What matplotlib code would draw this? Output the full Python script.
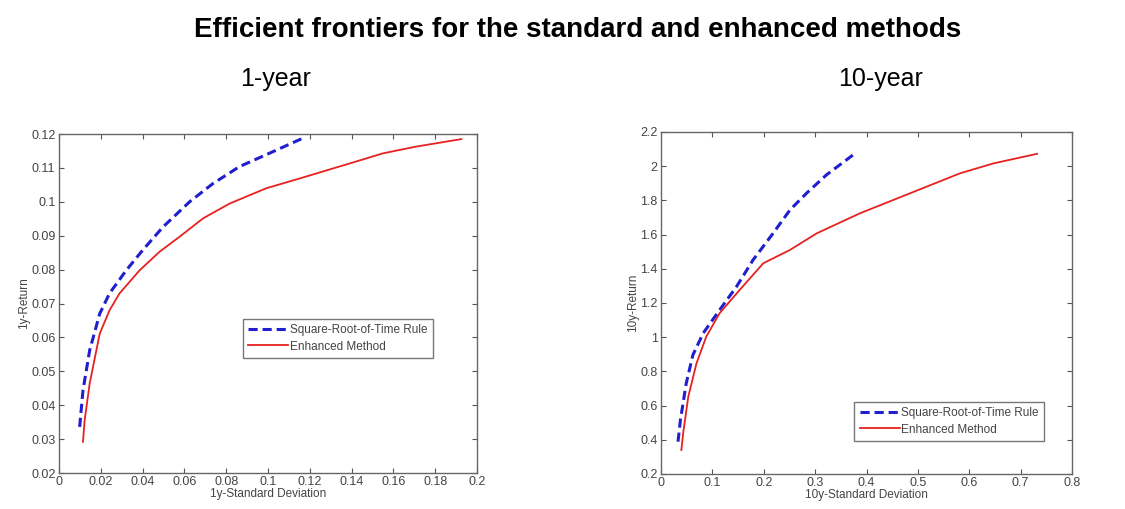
import matplotlib
matplotlib.use("Agg")
import matplotlib.pyplot as plt

plt.rcParams['font.family'] = ['Liberation Sans', 'DejaVu Sans']

# 1-year frontier
sd1_sqrt = [0.0099, 0.0115, 0.0147, 0.0195, 0.0242, 0.0322, 0.0400, 0.0498, 0.0625, 0.0737, 0.0864, 0.1024, 0.1175]
ret1_sqrt = [0.0336, 0.0444, 0.0562, 0.0670, 0.0730, 0.0798, 0.0857, 0.0926, 0.1000, 0.1054, 0.1104, 0.1148, 0.1190]
sd1_enh = [0.0115, 0.0123, 0.0147, 0.0195, 0.0242, 0.0290, 0.0386, 0.0482, 0.0577, 0.0689, 0.0817, 0.0992,
           0.1152, 0.1390, 0.1550, 0.1710, 0.1925]
ret1_enh = [0.0292, 0.0356, 0.0464, 0.0611, 0.0680, 0.0730, 0.0798, 0.0853, 0.0897, 0.0951, 0.0995, 0.1040,
            0.1069, 0.1113, 0.1143, 0.1163, 0.1185]

# 10-year frontier
sd10_sqrt = [0.033, 0.0377, 0.049, 0.062, 0.082, 0.114, 0.147, 0.179, 0.218, 0.251, 0.283, 0.322, 0.374]
ret10_sqrt = [0.389, 0.516, 0.730, 0.896, 1.023, 1.159, 1.296, 1.451, 1.607, 1.744, 1.841, 1.949, 2.066]
sd10_enh = [0.0396, 0.043, 0.053, 0.069, 0.088, 0.114, 0.153, 0.199, 0.251, 0.303, 0.387, 0.452, 0.517,
            0.582, 0.647, 0.732]
ret10_enh = [0.340, 0.438, 0.652, 0.847, 1.003, 1.140, 1.276, 1.432, 1.510, 1.607, 1.724, 1.802, 1.880,
             1.958, 2.016, 2.072]

label_fontsize = 8.5
tick_fontsize = 9
legend_fontsize = 8.5
text_color = '#444444'


def style_axes(ax, xlabel, ylabel, xlim, ylim, xticks, yticks):
    ax.set_xlim(*xlim)
    ax.set_ylim(*ylim)
    ax.set_xticks(xticks)
    ax.set_xticklabels([f'{v:g}' for v in xticks])
    ax.set_yticks(yticks)
    ax.set_yticklabels([f'{v:g}' for v in yticks])
    ax.set_xlabel(xlabel, fontsize=label_fontsize, color=text_color, labelpad=0)
    ax.set_ylabel(ylabel, fontsize=label_fontsize, color=text_color, labelpad=1)
    ax.tick_params(direction='in', top=True, right=True, length=3.5, width=0.8,
                   labelsize=tick_fontsize, labelcolor=text_color, color='#555555', pad=2.5)
    for sp in ax.spines.values():
        sp.set_color('#666666')
        sp.set_linewidth(1.0)


def add_legend(ax, anchor):
    ax.legend(loc='upper left', bbox_to_anchor=anchor, fontsize=legend_fontsize, frameon=True,
              fancybox=False, edgecolor='#555555', handlelength=3.4, borderpad=0.45,
              labelspacing=0.35, handletextpad=0.15, borderaxespad=0, labelcolor=text_color)


fig = plt.figure(figsize=(11.25, 5.09), dpi=100)

fig.text(0.513, 0.927, 'Efficient frontiers for the standard and enhanced methods',
         ha='center', va='baseline', fontsize=20, fontweight='bold')
fig.text(0.245, 0.831, '1-year', ha='center', va='baseline', fontsize=18)
fig.text(0.783, 0.831, '10-year', ha='center', va='baseline', fontsize=18)

ax1 = fig.add_axes([0.0524, 0.0707, 0.3716, 0.666])
ax1.plot(sd1_sqrt, ret1_sqrt, '--', color='#1f1fd0', lw=2.2, dashes=(3, 1.6),
         label='Square-Root-of-Time Rule')
ax1.plot(sd1_enh, ret1_enh, '-', color='#e82020', lw=1.3, label='Enhanced Method')
style_axes(ax1, '1y-Standard Deviation', '1y-Return', (0, 0.2), (0.02, 0.12),
           [0, 0.02, 0.04, 0.06, 0.08, 0.1, 0.12, 0.14, 0.16, 0.18, 0.2],
           [0.02, 0.03, 0.04, 0.05, 0.06, 0.07, 0.08, 0.09, 0.1, 0.11, 0.12])
add_legend(ax1, (0.44, 0.454))

ax2 = fig.add_axes([0.5876, 0.0688, 0.3653, 0.672])
ax2.plot(sd10_sqrt, ret10_sqrt, '--', color='#1f1fd0', lw=2.2, dashes=(3, 1.6),
         label='Square-Root-of-Time Rule')
ax2.plot(sd10_enh, ret10_enh, '-', color='#e82020', lw=1.3, label='Enhanced Method')
style_axes(ax2, '10y-Standard Deviation', '10y-Return', (0, 0.8), (0.2, 2.2),
           [0, 0.1, 0.2, 0.3, 0.4, 0.5, 0.6, 0.7, 0.8],
           [0.2, 0.4, 0.6, 0.8, 1.0, 1.2, 1.4, 1.6, 1.8, 2.0, 2.2])
add_legend(ax2, (0.47, 0.21))

plt.savefig('out.png', dpi=100)
plt.close()
